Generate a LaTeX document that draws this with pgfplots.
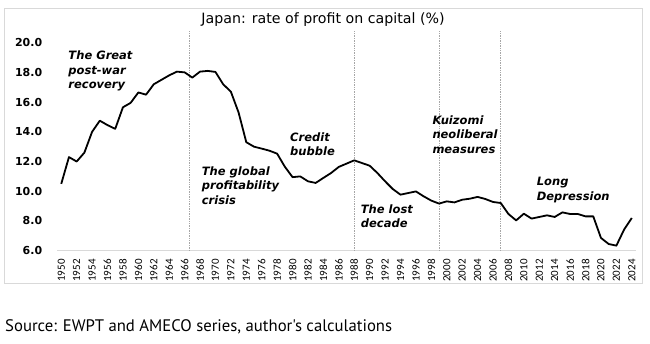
\documentclass[border=0pt]{standalone}
\usepackage{fontspec}
\setmainfont{DejaVu Sans}
\newfontfamily\titlefont{DejaVu Sans}
\newfontfamily\yearfont{Carlito}
\newfontfamily\srcfont{PT Sans}
\usepackage{pgfplots}
\pgfplotsset{compat=1.18}
\usepackage{pgfplotstable}
\pgfplotstableread{
year value
1950 10.5
1951 12.3
1952 12.0
1953 12.6
1954 14.0
1955 14.75
1956 14.45
1957 14.2
1958 15.65
1959 15.95
1960 16.65
1961 16.5
1962 17.2
1963 17.5
1964 17.8
1965 18.05
1966 18.0
1967 17.65
1968 18.05
1969 18.1
1970 18.03
1971 17.2
1972 16.7
1973 15.3
1974 13.3
1975 13.0
1976 12.87
1977 12.73
1978 12.53
1979 11.65
1980 10.95
1981 11.0
1982 10.67
1983 10.56
1984 10.9
1985 11.23
1986 11.64
1987 11.86
1988 12.08
1989 11.9
1990 11.72
1991 11.23
1992 10.67
1993 10.15
1994 9.77
1995 9.88
1996 9.99
1997 9.66
1998 9.37
1999 9.17
2000 9.32
2001 9.25
2002 9.43
2003 9.5
2004 9.62
2005 9.48
2006 9.28
2007 9.21
2008 8.47
2009 8.04
2010 8.49
2011 8.16
2012 8.27
2013 8.38
2014 8.27
2015 8.58
2016 8.47
2017 8.47
2018 8.31
2019 8.31
2020 6.86
2021 6.45
2022 6.34
2023 7.42
2024 8.2
}\datatable
\definecolor{framegray}{HTML}{D9D9D9}
\definecolor{vlinegray}{HTML}{A6A6A6}
\begin{document}
\begin{tikzpicture}
\path[use as bounding box] (-57.4bp,-93.3bp) rectangle (592.6bp,250.7bp);
\fill[white] (-57.4bp,-93.3bp) rectangle (592.6bp,250.7bp);
\draw[framegray, line width=0.8bp] (-53.4bp,-32.3bp) rectangle (584.6bp,242.7bp);
\begin{axis}[
  anchor=south west, at={(0,0)},
  x=7.71bp, y=14.86bp,
  xmin=1949.5, xmax=2024.5, ymin=6, ymax=20,
  clip=false,
  axis x line*=bottom, axis y line*=left,
  x axis line style={draw=framegray, line width=0.8bp},
  y axis line style={draw=none},
  major tick length=0pt,
  xtick={1950,1952,...,2024},
  ytick={6,8,...,20},
  /pgf/number format/assume math mode=true,
  x tick label style={font=\yearfont\fontsize{11bp}{12bp}\selectfont, rotate=90, anchor=east, inner sep=0pt,
    /pgf/number format/1000 sep={}},
  xticklabel shift=8.5bp,
  y tick label style={font=\bfseries\fontsize{11bp}{12bp}\selectfont, anchor=east, inner sep=0pt,
    /pgf/number format/.cd, fixed, fixed zerofill, precision=1},
  yticklabel shift=15bp,
]
\addplot[vlinegray, densely dotted, line width=0.7bp] coordinates {(1966.6,6) (1966.6,20.8)};
\addplot[vlinegray, densely dotted, line width=0.7bp] coordinates {(1988,6) (1988,20.8)};
\addplot[vlinegray, densely dotted, line width=0.7bp] coordinates {(1999.1,6) (1999.1,20.8)};
\addplot[vlinegray, densely dotted, line width=0.7bp] coordinates {(2007,6) (2007,20.8)};
\addplot[black, line width=1.8bp, line join=round] table[x=year, y=value] {\datatable};
\end{axis}
\tikzset{ann/.style={anchor=west, align=left, inner sep=0pt, font=\bfseries\itshape\fontsize{11.5bp}{14.5bp}\selectfont}}
\node[ann] at (10.9bp,179.4bp) {The Great\\post-war\\recovery};
\node[ann] at (144.3bp,65.4bp) {The global\\profitability\\crisis};
\node[ann] at (232.6bp,106.4bp) {Credit\\bubble};
\node[ann] at (303.3bp,34.4bp) {The lost\\decade};
\node[ann] at (374.9bp,116bp) {Kuizomi\\neoliberal\\measures};
\node[ann] at (479.3bp,60.7bp) {Long\\Depression};
\node[font=\titlefont\fontsize{14.2bp}{16bp}\selectfont, inner sep=0pt] at (265.6bp,230.7bp) {Japan: rate of profit on capital (\%)};
\node[font=\srcfont\fontsize{16.7bp}{18bp}\selectfont, anchor=west, inner sep=0pt] at (-52.4bp,-76.3bp) {Source: EWPT and AMECO series, author's calculations};
\end{tikzpicture}
\end{document}
